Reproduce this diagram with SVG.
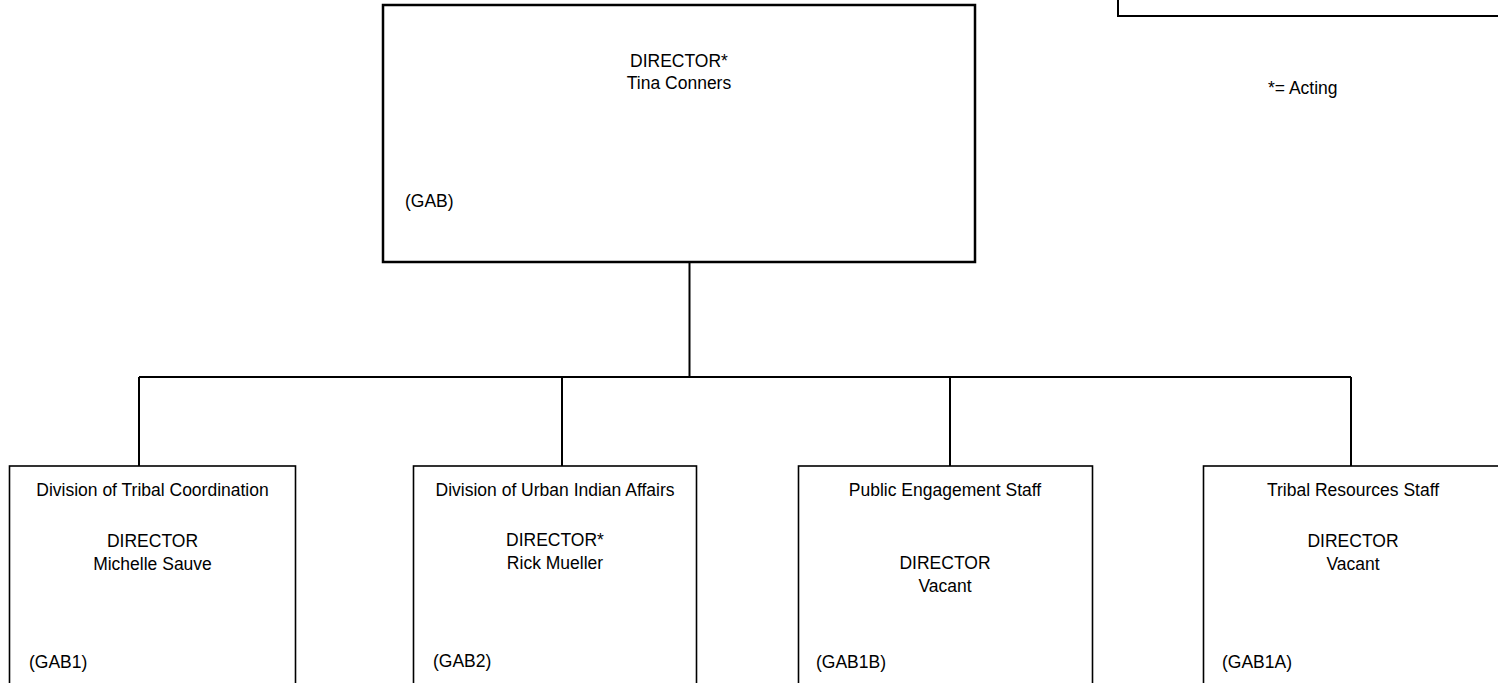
<svg xmlns="http://www.w3.org/2000/svg" width="1498" height="683" viewBox="0 0 1498 683">
<style>
  .box { fill: #ffffff; stroke: #000000; stroke-width: 1.6; }
  .topbox { fill: #ffffff; stroke: #000000; stroke-width: 2.5; }
  .conn { fill: none; stroke: #000000; stroke-width: 2; }
  text { font-family: "Liberation Sans", Arial, sans-serif; font-size: 17.5px; fill: #000000; }
  .c { text-anchor: middle; }
</style>
<rect width="1498" height="683" fill="#ffffff"/>
<g id="connectors">
  <line class="conn" x1="689.5" y1="262" x2="689.5" y2="377"/>
  <line class="conn" x1="139" y1="377" x2="1351" y2="377"/>
  <line class="conn" x1="139" y1="377" x2="139" y2="466"/>
  <line class="conn" x1="562" y1="377" x2="562" y2="466"/>
  <line class="conn" x1="950" y1="377" x2="950" y2="466"/>
  <line class="conn" x1="1351" y1="377" x2="1351" y2="466"/>
</g>
<g id="legend-box">
  <rect class="box" x="1118" y="-10" width="400" height="26" style="stroke-width:2"/>
</g>
<g id="legend">
  <text x="1268" y="94">*= Acting</text>
</g>
<g id="node-gab">
  <rect class="topbox" x="383" y="5" width="592" height="257"/>
  <text class="c" x="679" y="67">DIRECTOR*</text>
  <text class="c" x="679" y="89">Tina Conners</text>
  <text x="405" y="207">(GAB)</text>
</g>
<g id="node-gab1">
  <rect class="box" x="9.5" y="466" width="286" height="230"/>
  <text class="c" x="152.5" y="496">Division of Tribal Coordination</text>
  <text class="c" x="152.5" y="547">DIRECTOR</text>
  <text class="c" x="152.5" y="570">Michelle Sauve</text>
  <text x="29" y="668">(GAB1)</text>
</g>
<g id="node-gab2">
  <rect class="box" x="413.5" y="466" width="283" height="230"/>
  <text class="c" x="555" y="496">Division of Urban Indian Affairs</text>
  <text class="c" x="555" y="546">DIRECTOR*</text>
  <text class="c" x="555" y="569">Rick Mueller</text>
  <text x="433" y="667">(GAB2)</text>
</g>
<g id="node-gab1b">
  <rect class="box" x="798.5" y="466" width="294" height="230"/>
  <text class="c" x="945" y="496">Public Engagement Staff</text>
  <text class="c" x="945" y="569">DIRECTOR</text>
  <text class="c" x="945" y="592">Vacant</text>
  <text x="816" y="668">(GAB1B)</text>
</g>
<g id="node-gab1a">
  <rect class="box" x="1203.5" y="466" width="300" height="230"/>
  <text class="c" x="1353" y="496">Tribal Resources Staff</text>
  <text class="c" x="1353" y="547">DIRECTOR</text>
  <text class="c" x="1353" y="570">Vacant</text>
  <text x="1222" y="668">(GAB1A)</text>
</g>
</svg>
